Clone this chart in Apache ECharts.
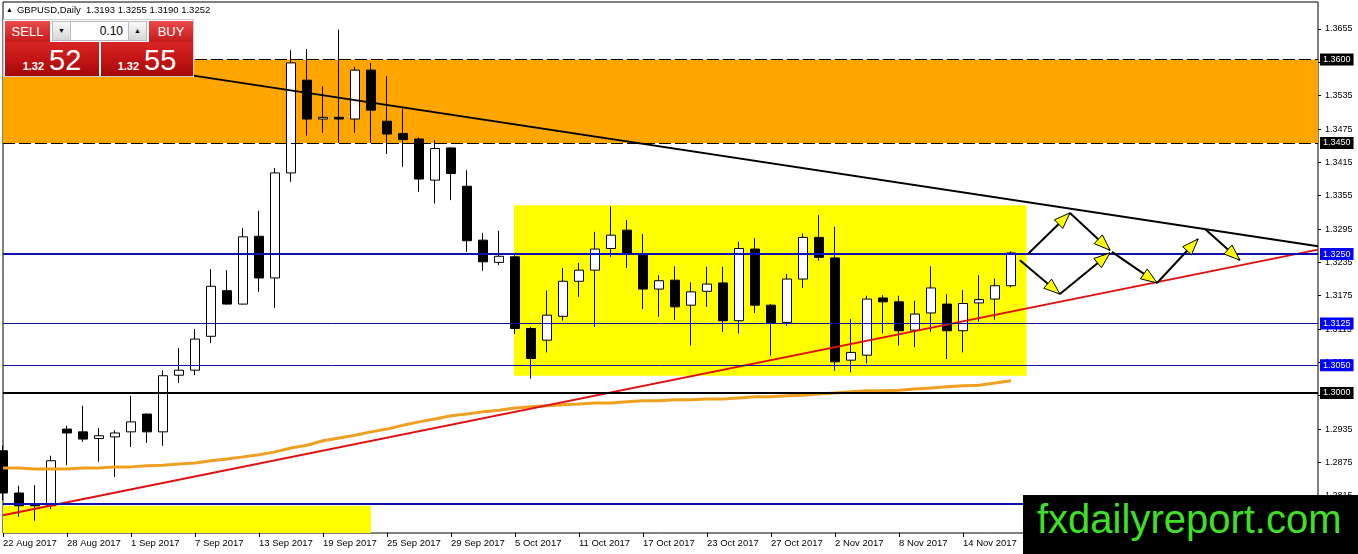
<!DOCTYPE html>
<html>
<head>
<meta charset="utf-8">
<title>GBPUSD Daily</title>
<script src="https://cdn.jsdelivr.net/npm/echarts@6/dist/echarts.min.js"></script>
<style>
html, body { margin: 0; padding: 0; background: #fff; }
#wrap { position: relative; width: 1358px; height: 554px; overflow: hidden; }
#main { position: absolute; left: 0; top: 0; width: 1358px; height: 554px; }
.ttl { position: absolute; left: 6px; top: 4px; font: 9.5px 'Liberation Sans', Arial, sans-serif; color: #000; white-space: nowrap; }
.ttl .tri { font-size: 7px; margin-right: 4px; vertical-align: 1px; }
.panel { position: absolute; left: 3px; top: 19px; width: 191px; height: 58px; background: #fff; border: 1px solid #ccc; box-sizing: border-box; }
.b { position: absolute; box-sizing: border-box; font-family: 'Liberation Sans', Arial, sans-serif; }
.red1 { background: linear-gradient(#ec4a4a, #c41a1a); color: #fff; font-size: 13px; line-height: 21px; text-align: center; }
.gray { background: linear-gradient(#fafafa, #d6d6d6); border: 1px solid #bbb; font-size: 7px; line-height: 18px; text-align: center; color: #000; }
.inp { background: #fff; border-top: 1px solid #bbb; border-bottom: 1px solid #bbb; font-size: 12px; line-height: 18px; text-align: right; padding-right: 5px; color: #000; }
.red2 { background: linear-gradient(#d82424 0%, #c01414 55%, #a40606 100%); color: #fff; display: flex; justify-content: center; align-items: baseline; padding-top: 3px; }
.red2 .s { font-size: 11px; font-weight: bold; margin-right: 5px; }
.red2 .l { font-size: 29px; line-height: 31px; }
.logo { position: absolute; left: 1023px; top: 495px; width: 335px; height: 59px; background: #000; }
.logo span { position: absolute; left: 14px; top: 4px; font: 40px/40px 'Liberation Sans', Arial, sans-serif; color: #3fe128; white-space: nowrap; }
</style>
</head>
<body>
<div id="wrap">
  <div id="main"></div>
  <div class="ttl"><span class="tri">&#9650;</span>GBPUSD,Daily&nbsp; 1.3193 1.3255 1.3190 1.3252</div>
  <div class="panel"></div>
  <div class="b red1" style="left:5px;top:21px;width:45px;height:21px;">SELL</div>
  <div class="b gray" style="left:52px;top:21px;width:19px;height:20px;">&#9660;</div>
  <div class="b inp" style="left:71px;top:21px;width:57px;height:20px;">0.10</div>
  <div class="b gray" style="left:128px;top:21px;width:19px;height:20px;">&#9650;</div>
  <div class="b red1" style="left:149px;top:21px;width:44px;height:21px;">BUY</div>
  <div class="b red2" style="left:5px;top:42px;width:94px;height:34px;"><span class="s">1.32</span><span class="l">52</span></div>
  <div class="b red2" style="left:101px;top:42px;width:92px;height:34px;"><span class="s">1.32</span><span class="l">55</span></div>
  <div class="logo"><span>fxdailyreport.com</span></div>
</div>
<script>
// daily bars, 22 Aug 2017 .. 17 Nov 2017 : [open, high, low, close]
var ohlc = [
  [1.2896, 1.2906, 1.2807, 1.2820], [1.2820, 1.2833, 1.2777, 1.2797], [1.2799, 1.2834, 1.2770, 1.2797],
  [1.2797, 1.2887, 1.2791, 1.2878], [1.2935, 1.2941, 1.2870, 1.2928], [1.2930, 1.2977, 1.2912, 1.2917],
  [1.2918, 1.2937, 1.2876, 1.2923], [1.2921, 1.2933, 1.2849, 1.2928], [1.2930, 1.2995, 1.2903, 1.2948],
  [1.2962, 1.2963, 1.2910, 1.2930], [1.2930, 1.3041, 1.2905, 1.3031], [1.3032, 1.3081, 1.3018, 1.3041],
  [1.3041, 1.3115, 1.3032, 1.3097], [1.3102, 1.3223, 1.3090, 1.3192], [1.3184, 1.3221, 1.3159, 1.3160],
  [1.3160, 1.3297, 1.3159, 1.3281], [1.3282, 1.3328, 1.3182, 1.3207], [1.3207, 1.3405, 1.3153, 1.3396],
  [1.3396, 1.3617, 1.3380, 1.3594], [1.3563, 1.3619, 1.3463, 1.3493], [1.3493, 1.3552, 1.3468, 1.3496],
  [1.3496, 1.3654, 1.3450, 1.3493], [1.3493, 1.3587, 1.3468, 1.3581], [1.3581, 1.3594, 1.3450, 1.3509],
  [1.3489, 1.3570, 1.3430, 1.3466], [1.3467, 1.3512, 1.3407, 1.3456], [1.3457, 1.3460, 1.3362, 1.3385],
  [1.3383, 1.3455, 1.3341, 1.3440], [1.3441, 1.3442, 1.3347, 1.3395], [1.3372, 1.3401, 1.3254, 1.3274],
  [1.3275, 1.3288, 1.3220, 1.3236], [1.3235, 1.3292, 1.3230, 1.3246], [1.3245, 1.3248, 1.3106, 1.3116],
  [1.3116, 1.3119, 1.3026, 1.3062], [1.3095, 1.3184, 1.3073, 1.3140], [1.3138, 1.3225, 1.3130, 1.3201],
  [1.3201, 1.3234, 1.3173, 1.3221], [1.3221, 1.3290, 1.3119, 1.3259], [1.3260, 1.3336, 1.3245, 1.3284],
  [1.3293, 1.3311, 1.3225, 1.3250], [1.3250, 1.3286, 1.3151, 1.3187], [1.3187, 1.3212, 1.3137, 1.3202],
  [1.3203, 1.3228, 1.3131, 1.3155], [1.3158, 1.3199, 1.3085, 1.3182], [1.3183, 1.3227, 1.3155, 1.3196],
  [1.3198, 1.3227, 1.3110, 1.3130], [1.3130, 1.3272, 1.3107, 1.3260], [1.3259, 1.3279, 1.3144, 1.3158],
  [1.3158, 1.3160, 1.3067, 1.3125], [1.3127, 1.3214, 1.3121, 1.3205], [1.3205, 1.3287, 1.3189, 1.3280],
  [1.3280, 1.3320, 1.3238, 1.3244], [1.3243, 1.3299, 1.3040, 1.3056], [1.3059, 1.3133, 1.3037, 1.3073],
  [1.3068, 1.3175, 1.3053, 1.3169], [1.3171, 1.3176, 1.3107, 1.3164], [1.3164, 1.3175, 1.3085, 1.3112],
  [1.3113, 1.3166, 1.3082, 1.3142], [1.3144, 1.3228, 1.3110, 1.3189], [1.3160, 1.3178, 1.3061, 1.3112],
  [1.3112, 1.3185, 1.3073, 1.3161], [1.3162, 1.3212, 1.3128, 1.3168], [1.3169, 1.3206, 1.3132, 1.3193],
  [1.3193, 1.3255, 1.3190, 1.3252]
];

// moving average (orange)
var maLine = [
  1.2865, 1.2865, 1.2863, 1.2863, 1.2863, 1.2865, 1.2865, 1.2867, 1.2867, 1.2869,
  1.2870, 1.2872, 1.2874, 1.2878, 1.2881, 1.2885, 1.2889, 1.2894, 1.2901, 1.2906,
  1.2914, 1.2919, 1.2924, 1.2930, 1.2935, 1.2942, 1.2948, 1.2953, 1.2959, 1.2962,
  1.2966, 1.2969, 1.2973, 1.2975, 1.2977, 1.2979, 1.2980, 1.2982, 1.2982, 1.2984,
  1.2986, 1.2986, 1.2988, 1.2988, 1.2989, 1.2989, 1.2991, 1.2993, 1.2993, 1.2995,
  1.2996, 1.2998, 1.3000, 1.3002, 1.3004, 1.3004, 1.3005, 1.3007, 1.3009, 1.3011,
  1.3013, 1.3014, 1.3018, 1.3022
];

var dateTickIdx = [0, 4, 8, 12, 16, 20, 24, 28, 32, 36, 40, 44, 48, 52, 56, 60];
var dateLabels = ['22 Aug 2017', '28 Aug 2017', '1 Sep 2017', '7 Sep 2017', '13 Sep 2017', '19 Sep 2017',
  '25 Sep 2017', '29 Sep 2017', '5 Oct 2017', '11 Oct 2017', '17 Oct 2017', '23 Oct 2017',
  '27 Oct 2017', '2 Nov 2017', '8 Nov 2017', '14 Nov 2017'];
var priceTicks = [1.2815, 1.2875, 1.2935, 1.2995, 1.3055, 1.3115, 1.3175, 1.3235, 1.3295,
  1.3355, 1.3415, 1.3475, 1.3535, 1.3595, 1.3655];

// horizontal levels
var blackLevels = [1.3000];
var dashLevels = [1.3600, 1.3450];
var blueLevels = [1.3250, 1.3125, 1.3050];
var blueBottom = 1.2800;

// zones [x0, p0, x1, p1]
var resistZone = [0, 1.3450, 82.19, 1.3600];
var rangeBox = [31.94, 1.3031, 63.98, 1.3338];
var lowBox = [0, 1.2740, 23.0, 1.2797];

// trend lines [x0, p0, x1, p1]
var upperTrend = [11.7, 1.3572, 82.19, 1.3264];
var lowerTrend = [0, 1.2780, 82.19, 1.3258];

// projected path arrows [x0, p0, x1, p1]
var arrowSegs = [
  [64.06, 1.3250, 66.69, 1.3324], [66.69, 1.3324, 69.19, 1.3257],
  [63.56, 1.3239, 66.06, 1.3178], [66.06, 1.3178, 69.19, 1.3252],
  [69.31, 1.3254, 72.13, 1.3198], [72.13, 1.3198, 74.69, 1.3277],
  [75.13, 1.3295, 77.31, 1.3239]
];

var font = "'Liberation Sans', Arial, sans-serif";
var dateMap = {};
dateTickIdx.forEach(function (v, i) { dateMap[v] = dateLabels[i]; });

var candleData = ohlc.map(function (r, i) { return [i, r[0], r[3], r[2], r[1]]; });
var maData = maLine.map(function (v, i) { return [i, v]; });

// a horizontal level drawn between the two grid edges, with its price tag on the axis
function levelLine(v, color, width, type, tagColor) {
    var seg = [
        { coord: [0, v], lineStyle: { color: color, width: width, type: type } },
        { coord: [82.19, v] }
    ];
    if (tagColor) {
        seg[0].label = {
            show: true, position: 'end', distance: 2,
            formatter: v.toFixed(4), color: '#fff', backgroundColor: tagColor,
            fontSize: 9, fontFamily: font, padding: [2, 3, 1, 3]
        };
    } else {
        seg[0].label = { show: false };
    }
    return seg;
}

var lines = [];
dashLevels.forEach(function (v) { lines.push(levelLine(v, '#000', 1, [12, 4], '#000')); });
blackLevels.forEach(function (v) { lines.push(levelLine(v, '#000', 2, 'solid', '#000')); });
lines.push(levelLine(blueLevels[0], '#1010b0', 2, 'solid', '#0000ff'));
lines.push(levelLine(blueLevels[1], '#1010a0', 1, 'solid', '#0000ff'));
lines.push(levelLine(blueLevels[2], '#1010a0', 1, 'solid', '#0000ff'));
lines.push(levelLine(blueBottom, '#1010b0', 2, 'solid', null));

function zoneArea(z, color) {
    return [{ coord: [z[0], z[1]], itemStyle: { color: color } }, { coord: [z[2], z[3]] }];
}

function renderArrow(params, api) {
    var p1 = api.coord([api.value(0), api.value(1)]);
    var p2 = api.coord([api.value(2), api.value(3)]);
    var dx = p2[0] - p1[0], dy = p2[1] - p1[1];
    var len = Math.sqrt(dx * dx + dy * dy);
    var ux = dx / len, uy = dy / len;
    var hl = 16, hw = 6;
    var bx = p2[0] - ux * hl, by = p2[1] - uy * hl;
    return {
        type: 'group',
        children: [
            { type: 'line', shape: { x1: p1[0], y1: p1[1], x2: p2[0], y2: p2[1] }, style: { stroke: '#000', lineWidth: 2 } },
            { type: 'polygon', shape: { points: [[p2[0], p2[1]], [bx - uy * hw, by + ux * hw], [bx + uy * hw, by - ux * hw]] },
              style: { fill: '#ffff00', stroke: '#000', lineWidth: 1 } }
        ]
    };
}

var chart = echarts.init(document.getElementById('main'));
chart.setOption({
    animation: false,
    backgroundColor: '#fff',
    grid: { left: 3, right: 40, top: 2, bottom: 21, show: true, borderColor: '#000', borderWidth: 1, backgroundColor: 'transparent' },
    xAxis: {
        type: 'value', min: 0, max: 82.19,
        splitLine: { show: false }, axisLine: { show: false, onZero: false },
        axisTick: { show: true, length: 4, customValues: dateTickIdx, lineStyle: { color: '#000' } },
        axisLabel: {
            customValues: dateTickIdx, align: 'left', margin: 5,
            formatter: function (v) { return dateMap[v] || ''; },
            fontSize: 9.5, fontFamily: font, color: '#000'
        }
    },
    yAxis: {
        type: 'value', position: 'right', min: 1.27480, max: 1.37036, scale: true,
        splitLine: { show: false }, axisLine: { show: false, onZero: false },
        axisTick: { show: true, length: 3, customValues: priceTicks, lineStyle: { color: '#000' } },
        axisLabel: {
            customValues: priceTicks, margin: 7,
            formatter: function (v) { return v.toFixed(4); },
            fontSize: 9, fontFamily: font, color: '#000'
        }
    },
    series: [
        {
            type: 'candlestick',
            data: candleData,
            barWidth: 9,
            itemStyle: { color: '#fff', color0: '#000', borderColor: '#000', borderColor0: '#000', borderWidth: 1 },
            markArea: {
                silent: true,
                data: [zoneArea(resistZone, '#ffa500'), zoneArea(rangeBox, '#ffff00'), zoneArea(lowBox, '#ffff00')]
            }
        },
        {
            type: 'line', data: maData, z: 3, symbol: 'none',
            lineStyle: { color: '#f0a020', width: 3 },
            markLine: { silent: true, symbol: ['none', 'none'], data: lines }
        },
        {
            type: 'line', z: 4, symbol: 'none',
            data: [[upperTrend[0], upperTrend[1]], [upperTrend[2], upperTrend[3]]],
            lineStyle: { color: '#000', width: 2 }
        },
        {
            type: 'line', z: 4, symbol: 'none',
            data: [[lowerTrend[0], lowerTrend[1]], [lowerTrend[2], lowerTrend[3]]],
            lineStyle: { color: '#e01010', width: 2 }
        },
        {
            type: 'custom', z: 6, clip: false,
            renderItem: renderArrow,
            encode: { x: [0, 2], y: [1, 3] },
            data: arrowSegs
        }
    ]
});
</script>
</body>
</html>
